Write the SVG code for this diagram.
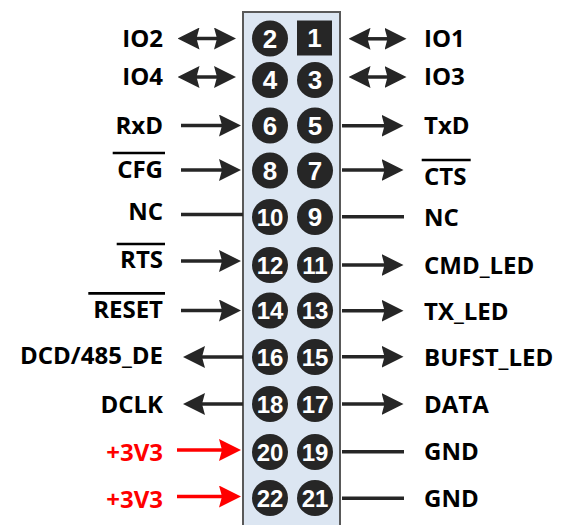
<svg xmlns="http://www.w3.org/2000/svg" width="566" height="525" viewBox="0 0 566 525">
<defs>
<style>
.lbl{font-family:"Open Sans","Liberation Sans",sans-serif;font-weight:700;font-size:24px;fill:#000}
.red{fill:#ff0000}
.l{text-anchor:end}
.num{font-family:"Liberation Sans",Arial,sans-serif;font-weight:700;fill:#fff;text-anchor:middle}
.n1{font-size:26px}
.n2{font-size:24px}
.pin{fill:#262626}
.ol{stroke:#000;stroke-width:2.7}
.w{fill:none;stroke:#262626;stroke-width:3.5}
.wr{fill:none;stroke:#ff0000;stroke-width:3.5}
</style>
<marker id="ah" viewBox="0 0 22 22" markerWidth="22" markerHeight="22" refX="4" refY="11" orient="auto-start-reverse" markerUnits="userSpaceOnUse"><path d="M0,0 L22,11 L0,22 L3,11 Z" fill="#262626"/></marker>
<marker id="ahr" viewBox="0 0 22 22" markerWidth="22" markerHeight="22" refX="4" refY="11" orient="auto" markerUnits="userSpaceOnUse"><path d="M0,0 L22,11 L0,22 L3,11 Z" fill="#ff0000"/></marker>
</defs>
<g id="header"><rect x="243" y="12" width="97" height="530" fill="#dce6f2" stroke="#595959" stroke-width="2"/></g>
<g id="pins">
<g id="pin1"><rect x="297" y="20.5" width="35" height="35" class="pin"/><text x="314.5" y="47" class="num n1">1</text></g>
<g id="pin2"><circle cx="270" cy="38.5" r="18" class="pin"/><text x="270" y="47.8" class="num n1">2</text></g>
<g id="pin3"><circle cx="315" cy="80" r="18" class="pin"/><text x="315" y="89.3" class="num n1">3</text></g>
<g id="pin4"><circle cx="270" cy="80" r="18" class="pin"/><text x="270" y="89.3" class="num n1">4</text></g>
<g id="pin5"><circle cx="315" cy="125.5" r="18" class="pin"/><text x="315" y="134.8" class="num n1">5</text></g>
<g id="pin6"><circle cx="270" cy="125.5" r="18" class="pin"/><text x="270" y="134.8" class="num n1">6</text></g>
<g id="pin7"><circle cx="315" cy="170.5" r="18" class="pin"/><text x="315" y="179.8" class="num n1">7</text></g>
<g id="pin8"><circle cx="270" cy="170.5" r="18" class="pin"/><text x="270" y="179.8" class="num n1">8</text></g>
<g id="pin9"><circle cx="315" cy="217" r="18" class="pin"/><text x="315" y="226.3" class="num n1">9</text></g>
<g id="pin10"><circle cx="270" cy="217" r="18" class="pin"/><text x="270" y="225.6" class="num n2">10</text></g>
<g id="pin11"><circle cx="315" cy="265" r="18" class="pin"/><text x="315" y="273.6" class="num n2">11</text></g>
<g id="pin12"><circle cx="270" cy="265" r="18" class="pin"/><text x="270" y="273.6" class="num n2">12</text></g>
<g id="pin13"><circle cx="315" cy="310.5" r="18" class="pin"/><text x="315" y="319.1" class="num n2">13</text></g>
<g id="pin14"><circle cx="270" cy="310.5" r="18" class="pin"/><text x="270" y="319.1" class="num n2">14</text></g>
<g id="pin15"><circle cx="315" cy="357" r="18" class="pin"/><text x="315" y="365.6" class="num n2">15</text></g>
<g id="pin16"><circle cx="270" cy="357" r="18" class="pin"/><text x="270" y="365.6" class="num n2">16</text></g>
<g id="pin17"><circle cx="315" cy="404" r="18" class="pin"/><text x="315" y="412.6" class="num n2">17</text></g>
<g id="pin18"><circle cx="270" cy="404" r="18" class="pin"/><text x="270" y="412.6" class="num n2">18</text></g>
<g id="pin19"><circle cx="315" cy="452" r="18" class="pin"/><text x="315" y="460.6" class="num n2">19</text></g>
<g id="pin20"><circle cx="270" cy="452" r="18" class="pin"/><text x="270" y="460.6" class="num n2">20</text></g>
<g id="pin21"><circle cx="315" cy="498" r="18" class="pin"/><text x="315" y="506.6" class="num n2">21</text></g>
<g id="pin22"><circle cx="270" cy="498" r="18" class="pin"/><text x="270" y="506.6" class="num n2">22</text></g>
</g>
<g id="connectors">
<path class="w" d="M195.5 38.5 H218" marker-start="url(#ah)" marker-end="url(#ah)"/>
<path class="w" d="M195.5 77 H218" marker-start="url(#ah)" marker-end="url(#ah)"/>
<path class="w" d="M366.5 38.8 H388.5" marker-start="url(#ah)" marker-end="url(#ah)"/>
<path class="w" d="M366.5 77 H388.5" marker-start="url(#ah)" marker-end="url(#ah)"/>
<path class="w" d="M181 125.5 H223" marker-end="url(#ah)"/>
<path class="w" d="M181 170 H223" marker-end="url(#ah)"/>
<path class="w" d="M181 214.5 H243"/>
<path class="w" d="M181 261 H223" marker-end="url(#ah)"/>
<path class="w" d="M181 310.5 H223" marker-end="url(#ah)"/>
<path class="w" d="M243 357 H201" marker-end="url(#ah)"/>
<path class="w" d="M243 404 H201" marker-end="url(#ah)"/>
<path class="wr" d="M177 450 H223" marker-end="url(#ahr)"/>
<path class="wr" d="M177 496.5 H223" marker-end="url(#ahr)"/>
<path class="w" d="M342 125.7 H385.5" marker-end="url(#ah)"/>
<path class="w" d="M342 170 H385.5" marker-end="url(#ah)"/>
<path class="w" d="M342 216.7 H404"/>
<path class="w" d="M342 265 H385.5" marker-end="url(#ah)"/>
<path class="w" d="M342 310.7 H385.5" marker-end="url(#ah)"/>
<path class="w" d="M342 356.7 H385.5" marker-end="url(#ah)"/>
<path class="w" d="M342 404 H385.5" marker-end="url(#ah)"/>
<path class="w" d="M342 451.7 H404"/>
<path class="w" d="M342 498.3 H404"/>
</g>
<g id="labels">
<g id="lbl-io2"><text x="163" y="46.7" class="lbl l">IO2</text></g>
<g id="lbl-io4"><text x="163" y="85" class="lbl l">IO4</text></g>
<g id="lbl-rxd"><text x="163" y="133.5" class="lbl l">RxD</text></g>
<g id="lbl-cfg"><text x="163" y="177.5" class="lbl l">CFG</text><line class="ol" x1="112.7" y1="153" x2="165" y2="153"/></g>
<g id="lbl-nc-l"><text x="163" y="220" class="lbl l">NC</text></g>
<g id="lbl-rts"><text x="163" y="268.3" class="lbl l">RTS</text><line class="ol" x1="116.7" y1="244" x2="165" y2="244"/></g>
<g id="lbl-reset"><text x="163" y="318.3" class="lbl l">RESET</text><line class="ol" x1="88.3" y1="293.3" x2="165" y2="293.3"/></g>
<g id="lbl-dcd"><text x="163" y="364" class="lbl l">DCD/485_DE</text></g>
<g id="lbl-dclk"><text x="163" y="413" class="lbl l">DCLK</text></g>
<g id="lbl-3v3a"><text x="163" y="461" class="lbl l red">+3V3</text></g>
<g id="lbl-3v3b"><text x="163" y="508" class="lbl l red">+3V3</text></g>
<g id="lbl-io1"><text x="424" y="46.7" class="lbl">IO1</text></g>
<g id="lbl-io3"><text x="424" y="85" class="lbl">IO3</text></g>
<g id="lbl-txd"><text x="424" y="134" class="lbl">TxD</text></g>
<g id="lbl-cts"><text x="424" y="185" class="lbl">CTS</text><line class="ol" x1="421.7" y1="160" x2="470.7" y2="160"/></g>
<g id="lbl-nc-r"><text x="424" y="226" class="lbl">NC</text></g>
<g id="lbl-cmd"><text x="424" y="274" class="lbl">CMD_LED</text></g>
<g id="lbl-tx"><text x="424" y="320" class="lbl">TX_LED</text></g>
<g id="lbl-bufst"><text x="424" y="366" class="lbl">BUFST_LED</text></g>
<g id="lbl-data"><text x="424" y="413" class="lbl">DATA</text></g>
<g id="lbl-gnd1"><text x="424" y="460" class="lbl">GND</text></g>
<g id="lbl-gnd2"><text x="424" y="507" class="lbl">GND</text></g>
</g>
</svg>
